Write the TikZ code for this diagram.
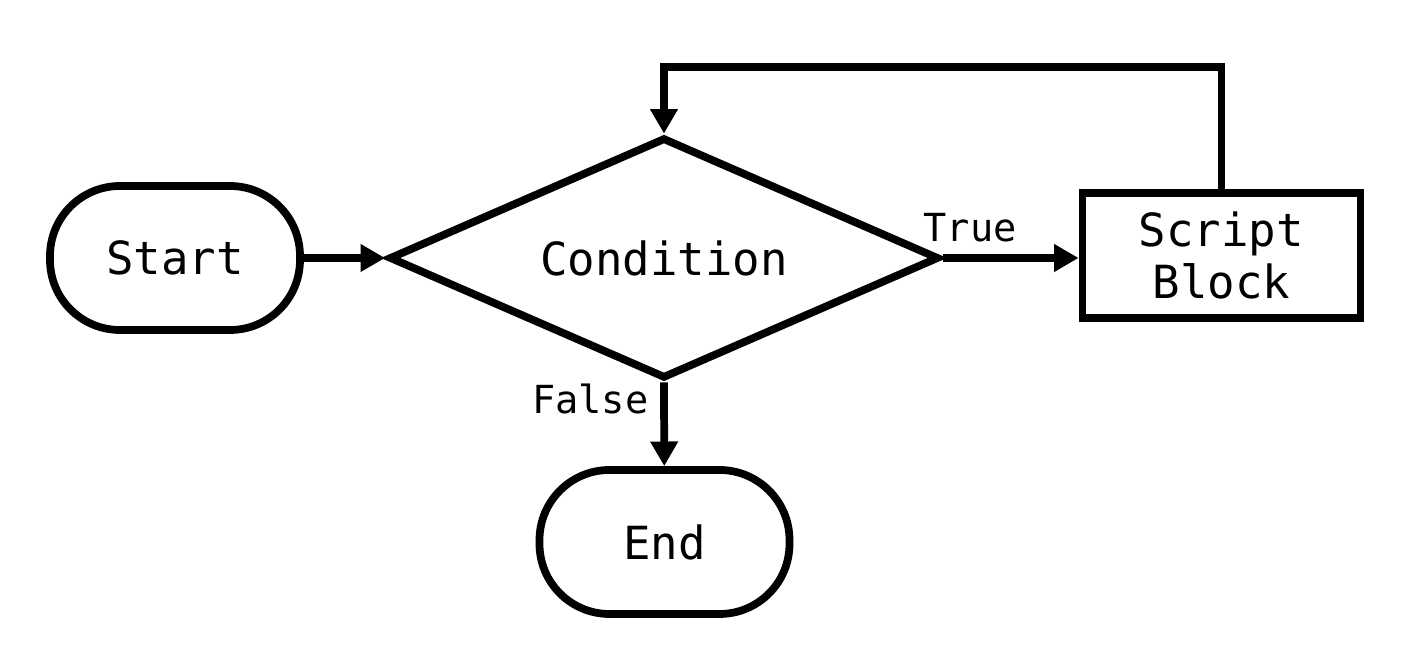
\documentclass[tikz,border=0pt]{standalone}
\usepackage{fontspec}
\setmonofont{DejaVu Sans Mono}
\usepackage{tikz}
\usetikzlibrary{arrows.meta, positioning, shapes.geometric, calc}

\begin{document}
\begin{tikzpicture}[
        terminal/.style={rectangle, rounded corners=0.7cm, draw, line width=2.2pt, minimum width=2.5cm, minimum height=1.44cm, font=\ttfamily\fontsize{13}{15}\selectfont},
        decision/.style={diamond, draw, line width=2.2pt, aspect=2.33, minimum width=5.5cm, minimum height=2.41cm, inner sep=0pt, font=\ttfamily\fontsize{13}{15}\selectfont},
        process/.style={rectangle, draw, line width=2.2pt, minimum width=2.78cm, minimum height=1.25cm, align=center, font=\ttfamily\fontsize{13}{15}\selectfont},
        branch/.style={font=\ttfamily\fontsize{11}{13}\selectfont},
        arrow/.style={-{Triangle[length=7pt, width=7.5pt]}, line width=2.2pt}
    ]
        \useasboundingbox (0,0) rectangle (14.1,6.56);

        % Nodes
        \node[terminal] (start) at (1.75,3.98) {Start};
        \node[decision] (cond) at (6.64,3.98) {Condition};
        \node[process] (script) at (12.215,4.005) {Script\\Block};
        \node[terminal] (end) at (6.645,1.14) {End};

        % Flow
        \draw[arrow] (start) -- (cond);
        \draw[arrow] (cond.east) -- node[branch, pos=0.2, above] {True} (script.west |- cond.east);
        \draw[arrow] (cond.south) -- node[branch, pos=0.2, left] {False} (end);

        % Loop back
        \coordinate (loop) at (6.64,5.89);
        \draw[arrow] (script.north) |- (loop) -- (cond.north);
    \end{tikzpicture}
\end{document}
